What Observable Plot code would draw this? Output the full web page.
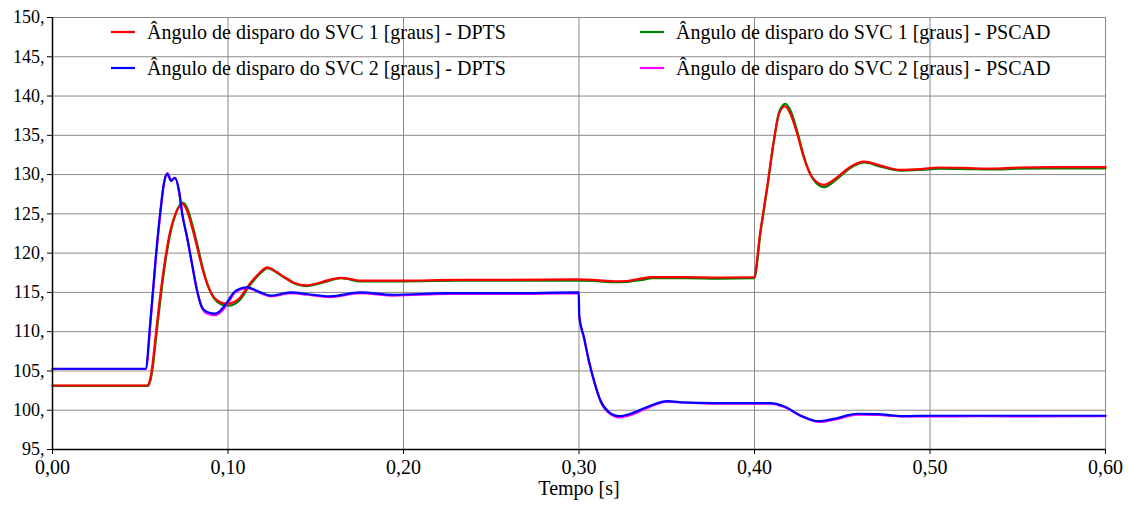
<!DOCTYPE html>
<html><head><meta charset="utf-8">
<script src="https://cdn.jsdelivr.net/npm/d3@7"></script>
<script src="https://cdn.jsdelivr.net/npm/@observablehq/plot@0.6"></script>
<style>
body{margin:0;background:#fff}
#chart{position:relative;width:1128px;height:506px}
#chart svg text{font-family:"Liberation Serif", serif !important;}
</style>
</head><body><div id="chart"></div>
<script>
// [tempo (s), ângulo (graus)]
const svc1Dpts = [[0,103.15],[0.054,103.15],[0.0555,103.8],[0.0568,105.5],[0.0587,109.3],[0.0615,114.8],[0.0644,119.5],[0.0672,122.9],[0.0701,125.0],[0.0739,126.27],[0.0767,125.4],[0.0795,123.3],[0.0824,120.75],[0.0852,118.2],[0.0881,116.1],[0.0919,114.4],[0.0957,113.75],[0.0995,113.55],[0.1033,113.75],[0.1071,114.4],[0.1109,115.65],[0.1147,116.7],[0.1185,117.6],[0.1223,118.2],[0.127,117.7],[0.1318,117.0],[0.138,116.2],[0.1442,115.9],[0.15,116.1],[0.1546,116.4],[0.1641,116.85],[0.17,116.7],[0.1755,116.5],[0.2,116.5],[0.23,116.6],[0.26,116.6],[0.299,116.65],[0.308,116.6],[0.314,116.5],[0.32,116.4],[0.327,116.45],[0.335,116.75],[0.341,116.95],[0.36,116.95],[0.38,116.9],[0.3996,116.93],[0.4034,122.9],[0.4072,128.4],[0.411,134.3],[0.4139,137.7],[0.4173,138.7],[0.4205,137.7],[0.4243,135.2],[0.4281,132.2],[0.4329,129.65],[0.4395,128.7],[0.447,129.65],[0.4547,131.0],[0.4623,131.65],[0.4718,131.15],[0.4832,130.6],[0.4946,130.7],[0.505,130.9],[0.52,130.85],[0.535,130.75],[0.55,130.9],[0.57,130.95],[0.6,130.95]];
const svc1Pscad = [[0,103.1],[0.0542,103.1],[0.0557,103.7],[0.057,105.3],[0.0589,109.0],[0.0617,114.5],[0.0646,119.3],[0.0674,122.8],[0.0703,125.1],[0.0742,126.45],[0.077,125.6],[0.0798,123.5],[0.0827,120.9],[0.0855,118.2],[0.0884,116.0],[0.0922,114.2],[0.096,113.5],[0.0998,113.3],[0.1036,113.5],[0.1074,114.2],[0.1112,115.5],[0.115,116.6],[0.1188,117.5],[0.1226,118.1],[0.1273,117.6],[0.132,116.9],[0.1382,116.1],[0.1445,115.8],[0.155,116.3],[0.1645,116.8],[0.176,116.4],[0.2,116.4],[0.23,116.5],[0.26,116.5],[0.3,116.5],[0.309,116.45],[0.315,116.35],[0.321,116.3],[0.328,116.35],[0.336,116.6],[0.342,116.8],[0.36,116.8],[0.38,116.75],[0.3998,116.8],[0.4036,122.9],[0.4074,128.5],[0.4112,134.5],[0.4141,138.0],[0.4176,139.0],[0.4208,138.0],[0.4246,135.3],[0.4284,132.1],[0.4332,129.5],[0.4398,128.4],[0.4473,129.5],[0.455,130.9],[0.4627,131.55],[0.472,131.0],[0.4835,130.5],[0.495,130.6],[0.505,130.75],[0.52,130.7],[0.535,130.65],[0.55,130.75],[0.57,130.8],[0.6,130.8]];
const svc2Dpts = [[0,105.28],[0.053,105.28],[0.0558,111.4],[0.0587,119.1],[0.0615,125.4],[0.0634,128.8],[0.0653,130.1],[0.0676,129.2],[0.0697,129.6],[0.072,128.0],[0.0739,125.0],[0.0767,122.0],[0.0795,118.6],[0.0824,115.2],[0.0852,113.1],[0.0881,112.5],[0.0929,112.3],[0.0957,112.7],[0.0995,113.75],[0.1033,115.0],[0.1071,115.5],[0.1109,115.65],[0.1185,115.0],[0.1242,114.6],[0.1356,115.0],[0.145,114.8],[0.158,114.5],[0.1755,115.0],[0.1945,114.7],[0.225,114.9],[0.26,114.9],[0.2999,115.0],[0.3001,112.06],[0.3028,109.3],[0.3056,106.3],[0.3085,103.8],[0.3123,101.2],[0.3171,99.76],[0.3228,99.25],[0.3293,99.55],[0.3388,100.4],[0.3502,101.16],[0.3597,101.0],[0.377,100.9],[0.395,100.9],[0.409,100.9],[0.4167,100.5],[0.4262,99.34],[0.4367,98.6],[0.4452,98.9],[0.4585,99.55],[0.4699,99.5],[0.485,99.25],[0.5004,99.3],[0.53,99.3],[0.56,99.3],[0.6,99.3]];
const svc2Pscad = [[0,105.25],[0.0532,105.25],[0.056,111.6],[0.0589,119.3],[0.0617,125.6],[0.0636,128.9],[0.0655,130.2],[0.0678,129.3],[0.0699,129.6],[0.0722,127.8],[0.0741,124.8],[0.0769,121.8],[0.0797,118.4],[0.0826,115.0],[0.0854,112.9],[0.0883,112.3],[0.093,112.1],[0.096,112.5],[0.0998,113.6],[0.1036,114.9],[0.1074,115.4],[0.1112,115.55],[0.1188,114.9],[0.1245,114.5],[0.136,114.9],[0.145,114.7],[0.158,114.4],[0.1755,114.9],[0.1945,114.6],[0.225,114.8],[0.26,114.8],[0.2999,114.9],[0.3001,112.0],[0.303,109.1],[0.3058,106.1],[0.3087,103.6],[0.3125,101.0],[0.3173,99.6],[0.323,99.1],[0.3295,99.4],[0.339,100.3],[0.3504,101.1],[0.36,100.95],[0.377,100.85],[0.395,100.85],[0.409,100.85],[0.417,100.4],[0.4265,99.25],[0.437,98.5],[0.4455,98.8],[0.4587,99.45],[0.47,99.4],[0.485,99.2],[0.5,99.2],[0.53,99.25],[0.56,99.2],[0.6,99.25]];

const xTicks = [0, 0.1, 0.2, 0.3, 0.4, 0.5, 0.6];
const yTicks = [95, 100, 105, 110, 115, 120, 125, 130, 135, 140, 145, 150];
const seriesNames = [
  "Ângulo de disparo do SVC 1 [graus] - DPTS",
  "Ângulo de disparo do SVC 2 [graus] - DPTS",
  "Ângulo de disparo do SVC 1 [graus] - PSCAD",
  "Ângulo de disparo do SVC 2 [graus] - PSCAD"
];
const seriesColors = ["#ff0000", "#0000ff", "#008000", "#ff00ff"];
const xLabel = "Tempo [s]";

const font = "Liberation Serif";
const lineOpts = (color) => ({x: d => d[0], y: d => d[1], stroke: color, strokeWidth: 2.2, curve: "monotone-x"});

const plot = Plot.plot({
  width: 1128, height: 506,
  marginLeft: 52, marginRight: 23, marginTop: 17, marginBottom: 57,
  style: {fontFamily: "'Liberation Serif', serif", fontSize: "20px", color: "#000", background: "#fff", overflow: "visible"},
  x: {domain: [0, 0.6]},
  y: {domain: [95, 150]},
  marks: [
    Plot.gridX(xTicks, {stroke: "#8a8a8a", strokeOpacity: 1, strokeWidth: 1}),
    Plot.gridY(yTicks, {stroke: "#8a8a8a", strokeOpacity: 1, strokeWidth: 1}),
    Plot.line(svc1Pscad, lineOpts(seriesColors[2])),
    Plot.line(svc2Pscad, lineOpts(seriesColors[3])),
    Plot.line(svc1Dpts, lineOpts(seriesColors[0])),
    Plot.line(svc2Dpts, lineOpts(seriesColors[1])),
    Plot.ruleX([0], {stroke: "#000", strokeWidth: 1.5}),
    Plot.ruleY([95], {stroke: "#000", strokeWidth: 1.5}),
    Plot.axisX(xTicks, {tickFormat: d => d.toFixed(2).replace(".", ","), tickSize: 5, tickPadding: 5, label: null, fontSize: 20, fontFamily: font, fontVariant: "normal", fill: "#000"}),
    Plot.axisY(yTicks, {tickFormat: d => d + ",", tickSize: 5, tickPadding: 3, label: null, fontSize: 18, fontFamily: font, fontVariant: "normal", fill: "#000"}),
    Plot.text([xLabel], {frameAnchor: "bottom", dy: 45, fontSize: 20, fontFamily: font, fill: "#000"})
  ]
});

document.getElementById("chart").appendChild(plot);

// legenda dentro do gráfico
const svg = d3.select(plot);
const legendPos = [[111, 32], [111, 68], [640, 32], [640, 68]];
const g = svg.append("g").attr("font-family", font).attr("font-size", 20).attr("text-anchor", "start");
seriesNames.forEach((name, i) => {
  const [lx, ly] = legendPos[i];
  g.append("line").attr("x1", lx).attr("x2", lx + 24).attr("y1", ly).attr("y2", ly)
    .attr("stroke", seriesColors[i]).attr("stroke-width", 2.2);
  g.append("text").attr("x", lx + 36).attr("y", ly + 7).attr("fill", "#000").attr("text-anchor", "start").text(name);
});
svg.selectAll("text").style("font-family", "'Liberation Serif', serif");
</script>
</body></html>
